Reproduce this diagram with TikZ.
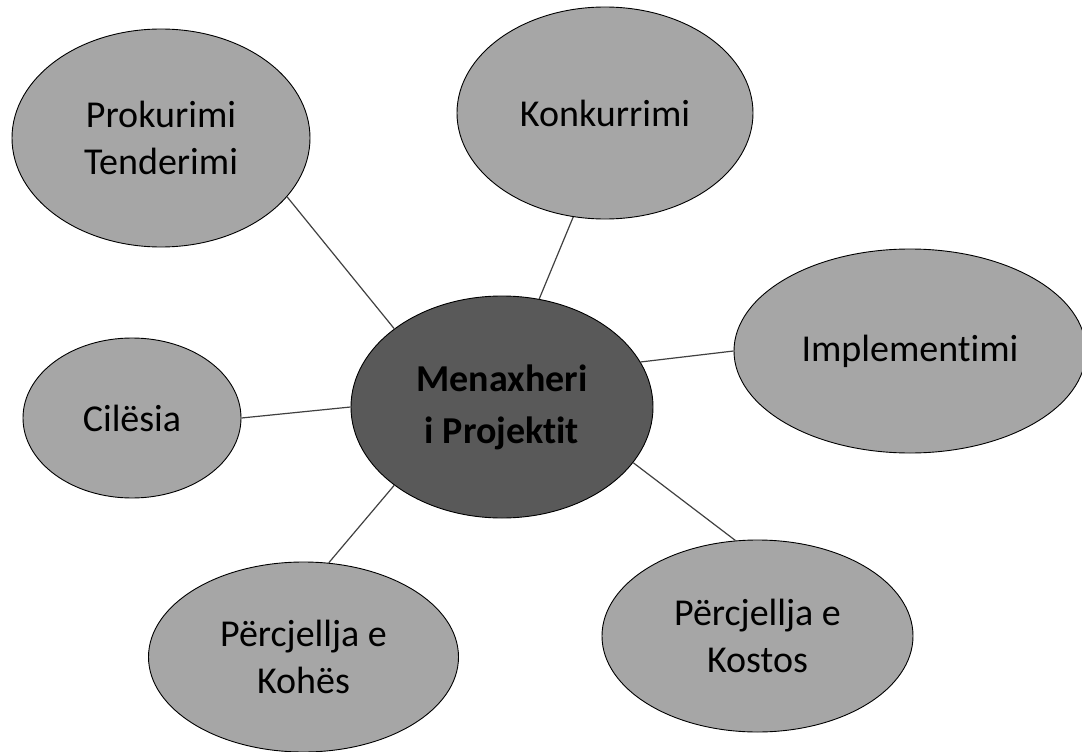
\documentclass[tikz,border=0pt]{standalone}
\usepackage{fontspec}
\setmainfont[Ligatures=NoCommon]{Carlito}
\usetikzlibrary{shapes.geometric}
\definecolor{lightfill}{HTML}{A6A6A6}
\definecolor{darkfill}{HTML}{595959}
\definecolor{linkcol}{HTML}{404040}
\tikzset{
  bubble/.style={ellipse, draw=black, line width=0.9pt, fill=lightfill, inner sep=0pt,
    align=center, font=\fontsize{38}{47}\selectfont, text=black},
  hub/.style={bubble, fill=darkfill, font=\fontsize{38}{52}\selectfont\bfseries},
  link/.style={draw=linkcol, line width=1.2pt}
}
\begin{document}
\begin{tikzpicture}[x=1pt,y=-1pt]
\useasboundingbox (0,0) rectangle (1082,752);
\begin{scope}
\clip (0,0) rectangle (1082,752);
\node[hub, minimum width=302pt, minimum height=222pt] (c) at (502,407) {Menaxheri\\i Projektit};
\node[bubble, minimum width=298pt, minimum height=218pt] (p) at (161,138) {Prokurimi\\Tenderimi};
\node[bubble, minimum width=296pt, minimum height=212pt] (k) at (605,113) {Konkurrimi};
\node[bubble, minimum width=352pt, minimum height=204pt] (i) at (910,351) {Implementimi};
\node[bubble, minimum width=218pt, minimum height=160pt] (q) at (132,418) {Cilësia};
\node[bubble, minimum width=310pt, minimum height=190pt] (t) at (303.5,657) {Përcjellja e\\Kohës};
\node[bubble, minimum width=311pt, minimum height=192pt] (s) at (757.5,636) {Përcjellja e\\Kostos};
\draw[link] (p.-25.8) -- (c.144.1);
\draw[link] (k.253.2) -- (c.71.4);
\draw[link] (i.180) -- (c.18.2);
\draw[link] (q.0) -- (c.180);
\draw[link] (t.75.5) -- (c.216.3);
\draw[link] (s.103.8) -- (c.-23.4);
\end{scope}
\end{tikzpicture}
\end{document}
